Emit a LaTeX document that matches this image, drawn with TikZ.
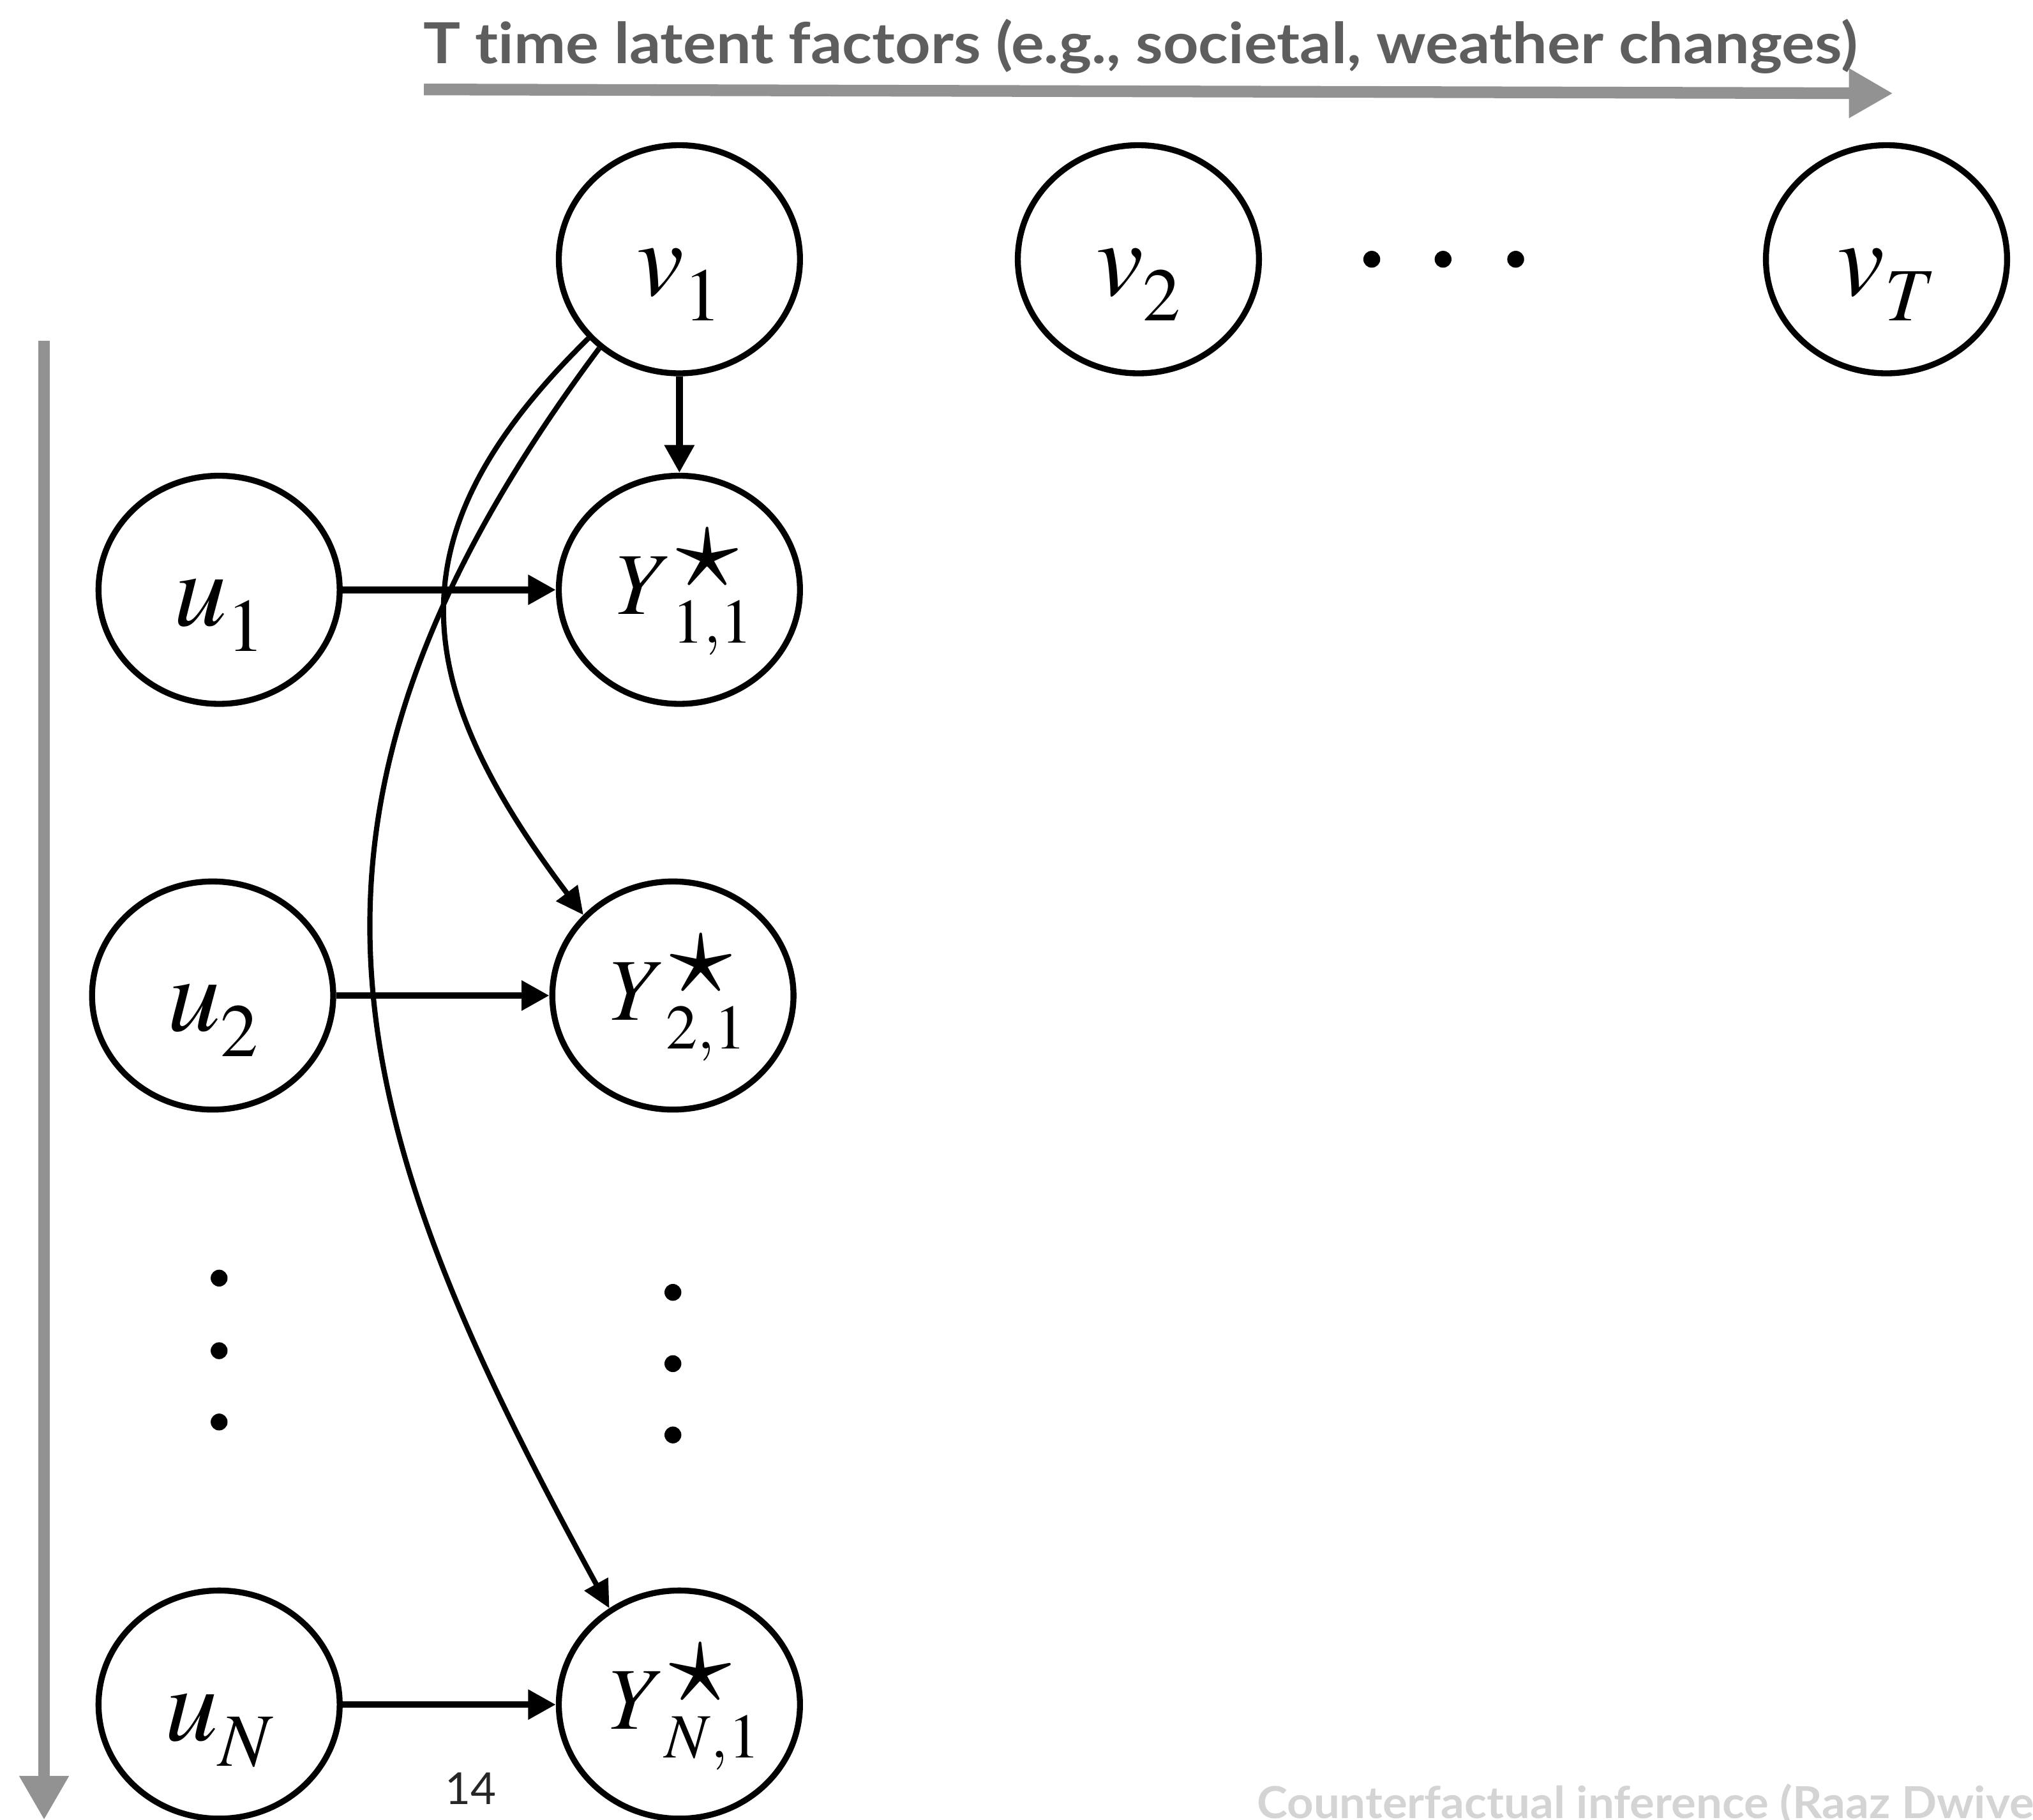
\documentclass[tikz,border=0pt]{standalone}
\usepackage{mathptmx}
\usepackage[no-math]{fontspec}
\newfontfamily\labelsans[Ligatures=NoCommon]{Lato}
\usetikzlibrary{arrows.meta,shapes.geometric}
\definecolor{bandgray}{HTML}{929292}
\definecolor{titlegray}{HTML}{5E5E5E}
\definecolor{footgray}{HTML}{D4D4D4}
% factor label: italic letter with a deep subscript
\newcommand{\factorlabel}[2]{$#1$\raisebox{-9.85pt}{\fontsize{29}{29}\selectfont$#2$}}
% outcome label: Y with a star above and two indices below
\newcommand{\outcomelabel}[2]{\kern4pt$Y$\makebox[0pt][l]{\kern1.5pt\raisebox{10.3pt}{\fontsize{48}{48}\selectfont$\star$}}%
  \raisebox{-11pt}{\fontsize{24.3}{24}\selectfont$#1{,}#2$}}
\begin{document}
\begin{tikzpicture}[x=0.5pt,y=-0.5pt,
  var/.style={ellipse, draw, line width=2.3pt, minimum width=93pt,
    minimum height=88pt, inner sep=0pt},
  latent/.style={var, font=\fontsize{41}{48}\selectfont, text height=30.5pt, text depth=3pt},
  outcome/.style={var, font=\fontsize{34}{40}\selectfont, text height=22pt, text depth=3pt},
  straightlink/.style={line width=2.6pt, -{Triangle[length=10.7pt,width=11pt]}},
  curvedlink/.style={line width=2pt, -{Triangle[length=10.6pt,width=10pt]}},
  axis/.style={bandgray, line width=4.5pt, -{Triangle[length=17pt,width=18pt]}},
  dotmark/.style={circle, fill, inner sep=0pt, minimum size=6.5pt}]
\useasboundingbox (0,0) rectangle (1568,1404);

% time axis and its caption
\node[anchor=base west, inner sep=0pt, text=titlegray,
  font=\labelsans\bfseries\fontsize{21.8}{26}\selectfont]
  (title) at (326,49) {\scalebox{1.095}[1]{T time latent factors (e.g., societal, weather changes)}};
\coordinate (tS) at (327,69);
\coordinate (tE) at (1460,72);
\draw[axis] (tS) -- (tE);

% unit axis
\coordinate (uS) at (34,263);
\coordinate (uE) at (34,1404);
\draw[axis] (uS) -- (uE);

% time factors
\node[latent] (v1) at (524,200) {\factorlabel{v}{1}};
\node[latent] (v2) at (878,200) {\factorlabel{v}{2}};
\node[latent] (vT) at (1455,200) {\factorlabel{v}{T}};
\node[dotmark] (hd1) at (1058,200) {};
\node[dotmark] (hd2) at (1113,200) {};
\node[dotmark] (hd3) at (1169,200) {};

% unit factors
\node[latent] (u1) at (169,455) {\factorlabel{u}{1}};
\node[latent] (u2) at (164,768) {\factorlabel{u}{2}};
\node[latent] (uN) at (169,1315) {\factorlabel{u}{N}};
\node[dotmark] (ld1) at (169,986) {};
\node[dotmark] (ld2) at (169,1042) {};
\node[dotmark] (ld3) at (169,1097) {};

% outcomes
\node[outcome] (Y11) at (524,455) {\outcomelabel{1}{1}};
\node[outcome] (Y21) at (519,768) {\outcomelabel{2}{1}};
\node[outcome] (YN1) at (524,1315) {\outcomelabel{N}{1}};
\node[dotmark] (rd1) at (519,997) {};
\node[dotmark] (rd2) at (519,1052) {};
\node[dotmark] (rd3) at (519,1107) {};

% edges
\draw[straightlink] (u1) -- (Y11);
\draw[straightlink] (u2) -- (Y21);
\draw[straightlink] (uN) -- (YN1);
\draw[straightlink] (v1) -- (Y11);
\draw[curvedlink] (v1.221) .. controls (303,409) and (312,523) .. (Y21.138);
\draw[curvedlink] (v1.228) .. controls (191,632) and (265,866) .. (YN1.126);

% page furniture
\node[font=\labelsans\fontsize{17}{20}\selectfont, text=black!85] (pg) at (363,1380) {14};
\node[anchor=base west, inner sep=0pt, text=footgray,
  font=\labelsans\bfseries\fontsize{17}{20}\selectfont]
  (foot) at (969,1403) {\scalebox{1.05}[1]{Counterfactual inference (Raaz Dwive}};
\end{tikzpicture}
\end{document}
